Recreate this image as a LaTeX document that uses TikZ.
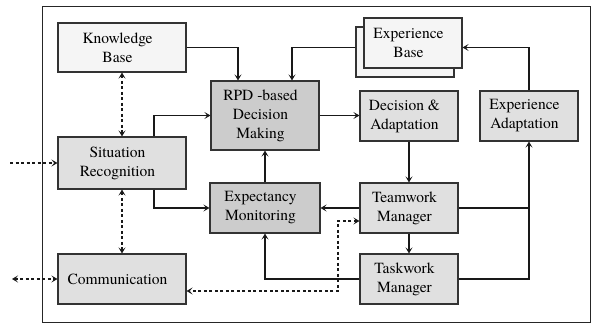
\documentclass[tikz,border=0pt]{standalone}
\usepackage{fontspec}
\setmainfont{TeX Gyre Termes}
\usetikzlibrary{arrows.meta}
\begin{document}
\begin{tikzpicture}[x=1pt,y=-1pt,
  font=\rmfamily\fontsize{15.5}{19}\selectfont,
  box/.style={draw=black!80, line width=1.2pt, inner sep=0pt,
    minimum width=98, minimum height=50},
  % caption of a box, set a little left of its centre
  txt/.style={label={[align=center, xshift=-4.5pt]center:{#1}}},
  lightbox/.style={box, fill=black!4},
  midbox/.style={box, fill=black!12},
  darkbox/.style={box, fill=black!20},
  tip/.tip={Stealth[length=6pt,width=7pt,inset=2.8pt]},
  conn/.style={line width=1.1pt, draw=black!90},
  arr/.style={conn, -tip},
  dash line/.style={conn, dash pattern=on 3pt off 2.5pt}
]
\useasboundingbox (0,0) rectangle (592,323);
% outer frame
\draw[line width=1pt, black!85] (42,7) rectangle (590,322);

% knowledge stores
\node[lightbox, minimum width=128, minimum height=49, txt={Knowledge\\Base}] (kb) at (122,47.5) {};
\node[lightbox] (ebb) at (405,52) {};
\node[lightbox, txt={Experience\\Base}] (eb) at (413,43) {};

% processing modules
\node[darkbox, minimum width=108, minimum height=69, txt={RPD -based\\Decision\\Making}] (rpd) at (265,115.5) {};
\node[midbox, txt={Decision \&\\Adaptation}] (da) at (409,116) {};
\node[midbox, txt={Experience\\Adaptation}] (ea) at (529,116) {};
\node[midbox, minimum width=128, minimum height=52, txt={Situation\\Recognition}] (sr) at (122,163) {};
\node[darkbox, minimum width=110, txt={Expectancy\\Monitoring}] (em) at (265,208) {};
\node[midbox, txt={Teamwork\\Manager}] (tm) at (409,208) {};
\node[midbox, txt={Taskwork\\Manager}] (tk) at (409,279) {};
\node[midbox, minimum width=128, txt={Communication}] (cm) at (122,279) {};

% outside endpoints and bends
\coordinate (inSR) at (10,163);
\coordinate (inCM) at (12,279);
\coordinate (dj) at (338,291);

% solid flows
\draw[arr] (kb.east) -| ([xshift=-27]rpd.north);
\draw[arr] (ebb.west |- kb.east) -| ([xshift=27]rpd.north);
\draw[arr] (ea.north) |- (eb.east |- kb.east);
\draw[arr] ([xshift=32]sr.north) |- (rpd.west);
\draw[arr] (rpd.east) -- (rpd.east -| da.west);
\draw[arr] (em.north) -- (rpd.south);
\draw[arr] ([xshift=32]sr.south) |- (em.west);
\draw[arr] (tm.west) -- (em.east);
\draw[arr] (da.south) -- (tm.north);
\draw[arr] (tm.south) -- (tk.north);
\draw[conn] (tm.east) -- (tm.east -| ea.south);
\draw[arr] (tk.east) -| (ea.south);
\draw[arr] (tk.west) -| (em.south);

% message / information exchange
\draw[dash line, tip-tip] (kb.south) -- (sr.north);
\draw[dash line, tip-tip] (sr.south) -- (cm.north);
\draw[dash line, -tip] (inSR) -- (sr.west);
\draw[dash line, tip-tip] (inCM) -- (cm.west);
\draw[dash line, tip-tip] ([yshift=-13pt]tm.west) -| (dj) -- (dj -| cm.east);
\end{tikzpicture}
\end{document}
